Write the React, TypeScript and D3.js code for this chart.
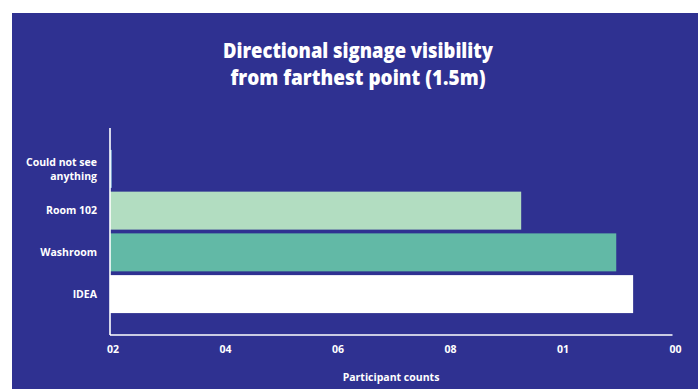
import React from "react";
import * as d3 from "d3";

const categories = ["Could not see anything", "Room 102", "Washroom", "IDEA"];
const categoryLines = [["Could not see", "anything"], ["Room 102"], ["Washroom"], ["IDEA"]];
const values = [0.03, 7.31, 9.0, 9.3];
const barColors = ["#9FCFE6", "#B2DDC1", "#62B9A6", "#FFFFFF"];
const tickValues = [0, 2, 4, 6, 8, 10];
const tickLabels = ["02", "04", "06", "08", "01", "00"];
const titleLines = ["Directional signage visibility", "from farthest point (1.5m)"];
const xAxisTitle = "Participant counts";

const W = 698;
const H = 389;
const BG = "#2F3191";
const FONT = "'Open Sans', 'Noto Sans', sans-serif";

export default function App() {
  const x = d3.scaleLinear().domain([0, 10]).range([110, 672.5]);
  const y = d3
    .scaleBand<string>()
    .domain(categories)
    .range([128, 335])
    .paddingInner(0.09)
    .paddingOuter(0.525);

  return (
    <svg
      width={W}
      height={H}
      style={{ position: "absolute", left: 0, top: 0, display: "block" }}
    >
      <rect x={0} y={0} width={W} height={H} fill="#FFFFFF" />
      <rect x={12} y={13} width={W - 12} height={H - 13} fill={BG} />

      {titleLines.map((t, i) => (
        <text
          key={t}
          x={358}
          y={58 + i * 27}
          textAnchor="middle"
          fill="#FFFFFF"
          fontFamily={FONT}
          fontWeight={800}
          fontSize={20.5}
          textLength={i === 0 ? 270 : 255}
          lengthAdjust="spacingAndGlyphs"
        >
          {t}
        </text>
      ))}

      {categories.map((c, i) => (
        <rect
          key={c}
          x={x(0)}
          y={y(c)!}
          width={Math.max(0, x(values[i]) - x(0))}
          height={y.bandwidth()}
          fill={barColors[i]}
        />
      ))}

      <line x1={110} x2={110} y1={128} y2={335} stroke="#FFFFFF" strokeWidth={1.6} />
      <line x1={110} x2={x(10)} y1={335} y2={335} stroke="#FFFFFF" strokeWidth={1.6} />

      {categories.map((c, i) => {
        const lines = categoryLines[i];
        const cy = y(c)! + y.bandwidth() / 2;
        const lh = 14;
        const start = cy + 3.8 - ((lines.length - 1) * lh) / 2;
        return (
          <text
            key={c}
            textAnchor="end"
            fill="#FFFFFF"
            fontFamily={FONT}
            fontWeight={700}
            fontSize={10.5}
          >
            {lines.map((l, j) => (
              <tspan key={l} x={97} y={start + j * lh}>
                {l}
              </tspan>
            ))}
          </text>
        );
      })}

      {tickValues.map((t, i) => (
        <text
          key={t}
          x={x(t) + 3}
          y={353}
          textAnchor="middle"
          fill="#FFFFFF"
          fontFamily={FONT}
          fontWeight={700}
          fontSize={10.5}
        >
          {tickLabels[i]}
        </text>
      ))}

      <text
        x={391}
        y={381}
        textAnchor="middle"
        fill="#FFFFFF"
        fontFamily={FONT}
        fontWeight={700}
        fontSize={10.5}
      >
        {xAxisTitle}
      </text>
    </svg>
  );
}
